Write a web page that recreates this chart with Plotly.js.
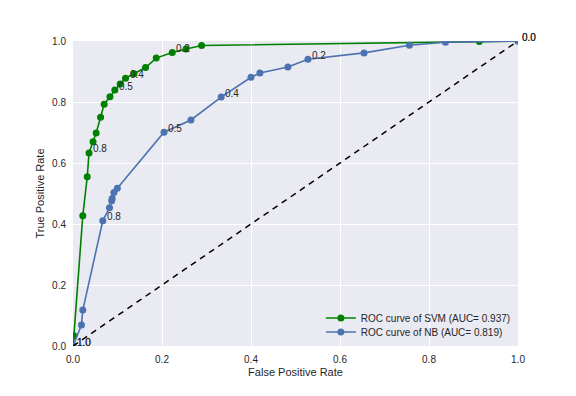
<!DOCTYPE html>
<html>
<head>
<meta charset="utf-8">
<script src="https://cdn.plot.ly/plotly-3.0.1.min.js"></script>
<style>html,body{margin:0;padding:0;background:#fff;}#chart{width:576px;height:396px;}</style>
</head>
<body>
<div id="chart"></div>
<script>
// SVM ROC curve points
var svm_fpr = [0, 0.002, 0.022, 0.032, 0.036, 0.045, 0.052, 0.062, 0.070, 0.083, 0.094, 0.106, 0.118, 0.137, 0.163, 0.187, 0.223, 0.254, 0.289, 0.913, 1.0];
var svm_tpr = [0, 0.034, 0.427, 0.555, 0.633, 0.670, 0.698, 0.750, 0.793, 0.817, 0.839, 0.859, 0.878, 0.893, 0.913, 0.944, 0.962, 0.974, 0.985, 0.998, 1.0];
// NB ROC curve points
var nb_fpr = [0, 0.019, 0.022, 0.067, 0.082, 0.087, 0.088, 0.092, 0.0996, 0.2045, 0.265, 0.333, 0.400, 0.420, 0.483, 0.528, 0.654, 0.756, 0.837, 1.0];
var nb_tpr = [0, 0.069, 0.118, 0.411, 0.453, 0.476, 0.484, 0.503, 0.517, 0.701, 0.741, 0.816, 0.881, 0.895, 0.915, 0.940, 0.961, 0.986, 0.996, 1.0];
// threshold labels (text and index of the point they annotate)
var svm_label_text = ["1.0", "0.8", "0.5", "0.4", "0.2", "0.0"];
var svm_label_idx = [0, 4, 10, 12, 16, 20];
var nb_label_text = ["1.0", "0.8", "0.5", "0.4", "0.2", "0.0"];
var nb_label_idx = [0, 3, 9, 11, 15, 19];
// chance line
var diag_x = [0, 1];
var diag_y = [0, 1];
var legend_names = ["ROC curve of SVM (AUC= 0.937)", "ROC curve of NB (AUC= 0.819)"];
var tick_vals = [0, 0.2, 0.4, 0.6, 0.8, 1.0];
var tick_text = ["0.0", "0.2", "0.4", "0.6", "0.8", "1.0"];

var FONT = "Liberation Sans, Arial, sans-serif";

var traces = [
  {x: svm_fpr, y: svm_tpr, mode: "lines+markers", name: legend_names[0], legend: "legend",
   line: {color: "#008000", width: 1.6}, marker: {color: "#008000", size: 7}},
  {x: nb_fpr, y: nb_tpr, mode: "lines+markers", name: legend_names[1], legend: "legend2",
   line: {color: "#4C72B0", width: 1.6}, marker: {color: "#4C72B0", size: 7}},
  {x: diag_x, y: diag_y, mode: "lines", showlegend: false,
   line: {color: "#000000", width: 1.5, dash: "6px,5px"}}
];

var annotations = [];
function addLabels(texts, idxs, xs, ys) {
  for (var i = 0; i < texts.length; i++) {
    annotations.push({x: xs[idxs[i]], y: ys[idxs[i]], text: texts[i], showarrow: false,
      xanchor: "left", yanchor: "middle", xshift: 2, yshift: 4,
      font: {family: FONT, size: 10, color: "#262626"}});
  }
}
addLabels(svm_label_text, svm_label_idx, svm_fpr, svm_tpr);
addLabels(nb_label_text, nb_label_idx, nb_fpr, nb_tpr);

var axisCommon = {
  range: [0, 1], tickvals: tick_vals, ticktext: tick_text,
  showgrid: true, gridcolor: "#ffffff", gridwidth: 1, zeroline: false,
  showline: false, ticks: "outside", ticklen: 4, tickcolor: "rgba(0,0,0,0)", fixedrange: true,
  tickfont: {family: FONT, size: 10, color: "#262626"}
};

var legendCommon = {xanchor: "left", yanchor: "middle", bgcolor: "rgba(0,0,0,0)",
  font: {family: FONT, size: 10, color: "#262626"}, itemwidth: 30, borderwidth: 0};

var layout = {
  width: 576, height: 396,
  margin: {l: 73, r: 58, t: 41, b: 50, pad: 0},
  paper_bgcolor: "#ffffff", plot_bgcolor: "#EAEAF2",
  font: {family: FONT, size: 10, color: "#262626"},
  xaxis: Object.assign({}, axisCommon, {
    title: {text: "False Positive Rate", font: {size: 11, color: "#262626"}, standoff: 4}
  }),
  yaxis: Object.assign({}, axisCommon, {
    title: {text: "True Positive Rate", font: {size: 11, color: "#262626"}, standoff: 5}
  }),
  showlegend: true,
  legend: Object.assign({}, legendCommon, {x: 0.557, y: 0.0918}),
  legend2: Object.assign({}, legendCommon, {x: 0.557, y: 0.0459}),
  annotations: annotations
};

Plotly.newPlot("chart", traces, layout, {displayModeBar: false, staticPlot: true});
</script>
</body>
</html>
